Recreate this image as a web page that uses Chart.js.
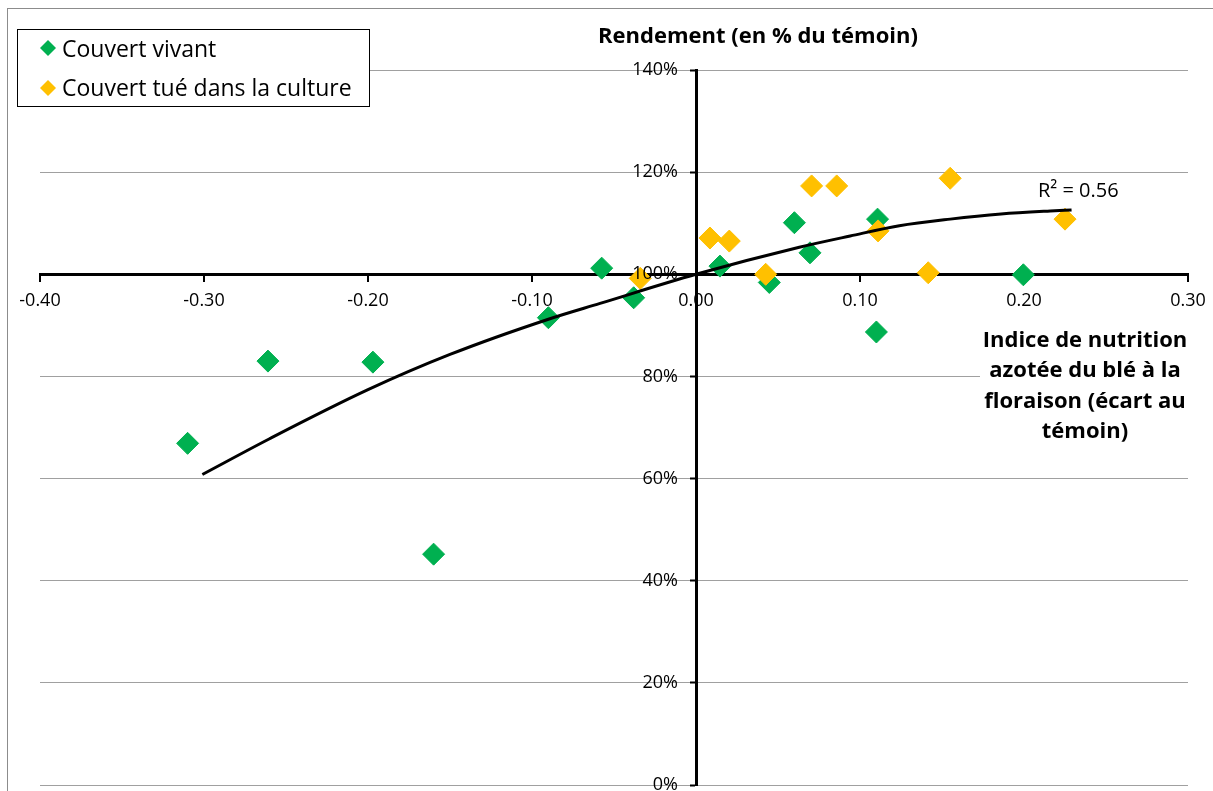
<!DOCTYPE html>
<html>
<head>
<meta charset="utf-8">
<script src="https://cdn.jsdelivr.net/npm/chart.js@4"></script>
<style>
  html,body{margin:0;padding:0;background:#fff;overflow:hidden}
  #clip{width:1213px;height:791px;overflow:hidden;position:relative}
  #wrap{width:1213px;height:797px;position:relative}
</style>
</head>
<body>
<div id="clip"><div id="wrap"><canvas id="c"></canvas></div></div>
<script>
// --- data (x: écart INN, y: rendement % du témoin)
const vivantX = [-0.310,-0.261,-0.197,-0.160,-0.090,-0.0575,-0.038,0.0146,0.0447,0.060,0.0695,0.1107,0.110,0.1996];
const vivantY = [66.9,83.0,82.8,45.2,91.5,101.2,95.4,101.6,98.4,110.1,104.2,110.8,88.7,99.9];
const tueX = [-0.034,0.0085,0.0203,0.0425,0.0705,0.0858,0.111,0.1416,0.155,0.225];
const tueY = [99.2,107.1,106.5,100.0,117.3,117.3,108.5,100.3,118.8,110.8];
// courbe de tendance (polynomiale)
const trendX = [-0.301,-0.26,-0.2,-0.15,-0.09,-0.0585,0,0.063,0.094,0.124,0.155,0.186,0.216,0.229];
const trendY = [60.8,67.8,77.4,84.3,91.2,94.3,100,105.3,107.5,109.5,110.8,111.8,112.4,112.6];
const r2Label = 'R² = 0.56';
const xTicks = {min:-0.4, max:0.3, step:0.1};
const yTicks = {min:0, max:140, step:20};

const GREEN='#00B050', ORANGE='#FFC000';
const FONT='"Open Sans", Lato, sans-serif';

function pts(xs,ys){ return xs.map((x,i)=>({x, y:ys[i]})) }
function fmt(v){ return (Math.round(v*100)/100).toFixed(2) } // avoids "-0.00"

// --- decorations: outer frame, tick labels, legend, titles
const decor = {
  id:'decor',
  beforeDraw(chart){
    const c=chart.ctx; c.save();
    c.fillStyle='#fff'; c.fillRect(0,0,chart.width,chart.height);
    c.strokeStyle='#8c8c8c'; c.lineWidth=1;
    c.strokeRect(7.5,8.5,chart.width,chart.height);
    c.restore();
  },
  afterDraw(chart){
    const c=chart.ctx, xs=chart.scales.x, ys=chart.scales.y; c.save();
    // tick labels (axes cross at 0 / 100%)
    const x0=xs.getPixelForValue(0), y0=ys.getPixelForValue(100);
    c.fillStyle='#000'; c.font='18px '+FONT;
    c.textAlign='right'; c.textBaseline='middle';
    ys.ticks.forEach(t=>c.fillText(Math.round(t.value)+'%', x0-18, ys.getPixelForValue(t.value)));
    c.textAlign='center';
    xs.ticks.forEach(t=>c.fillText(fmt(t.value), xs.getPixelForValue(t.value), y0+27));
    // legend
    c.fillStyle='#fff'; c.fillRect(17,29,353,78);
    c.strokeStyle='#000'; c.lineWidth=1; c.strokeRect(17.5,29.5,352,77);
    diamond(c,48,48,8,GREEN); diamond(c,48,88,8,ORANGE);
    c.fillStyle='#000'; c.font='23px '+FONT; c.textAlign='left'; c.textBaseline='alphabetic';
    c.fillText('Couvert vivant',62,57);
    c.fillText('Couvert tué dans la culture',62,96);
    // y title
    c.font='bold 22px '+FONT; c.textAlign='center';
    c.fillText('Rendement (en % du témoin)',758,43);
    // x title with white box behind
    c.fillStyle='#fff'; c.fillRect(980,322,209,128);
    c.fillStyle='#000';
    ['Indice de nutrition','azotée du blé à la','floraison (écart au','témoin)'].forEach((t,i)=>c.fillText(t,1085,347+i*30.3));
    // R²
    c.font='20px '+FONT; c.textAlign='left';
    c.fillText(r2Label,1038,197);
    c.restore();
  }
};
function diamond(c,x,y,r,col){
  c.beginPath(); c.moveTo(x-r,y); c.lineTo(x,y-r); c.lineTo(x+r,y); c.lineTo(x,y+r); c.closePath();
  c.fillStyle=col; c.fill();
}

new Chart(document.getElementById('c'),{
  type:'scatter',
  data:{datasets:[
    {label:'tendance', data:pts(trendX,trendY), showLine:true, pointRadius:0, borderColor:'#000', borderWidth:3,
     cubicInterpolationMode:'monotone', order:0},
    {label:'Couvert tué dans la culture', data:pts(tueX,tueY), pointStyle:'rectRot', pointRadius:11,
     backgroundColor:ORANGE, borderColor:ORANGE, borderWidth:1, order:1},
    {label:'Couvert vivant', data:pts(vivantX,vivantY), pointStyle:'rectRot', pointRadius:11,
     backgroundColor:GREEN, borderColor:GREEN, borderWidth:1, order:2}
  ]},
  options:{
    responsive:true, maintainAspectRatio:false, animation:false,
    layout:{padding:{left:40, top:70, right:25, bottom:7}},
    plugins:{legend:{display:false}, tooltip:{enabled:false}},
    scales:{
      x:{type:'linear', position:{y:100}, min:xTicks.min, max:xTicks.max,
        ticks:{display:false, stepSize:xTicks.step, autoSkip:false},
        grid:{drawOnChartArea:false, color:'#000', lineWidth:2, tickLength:6},
        border:{display:true, color:'#000', width:3}},
      y:{type:'linear', position:{x:0}, min:yTicks.min, max:yTicks.max,
        ticks:{display:false, stepSize:yTicks.step, autoSkip:false},
        grid:{color:'#a0a0a0', lineWidth:1, tickColor:'#000', tickWidth:2, tickLength:5},
        border:{display:true, color:'#000', width:3}}
    }
  },
  plugins:[decor]
});
</script>
</body>
</html>
